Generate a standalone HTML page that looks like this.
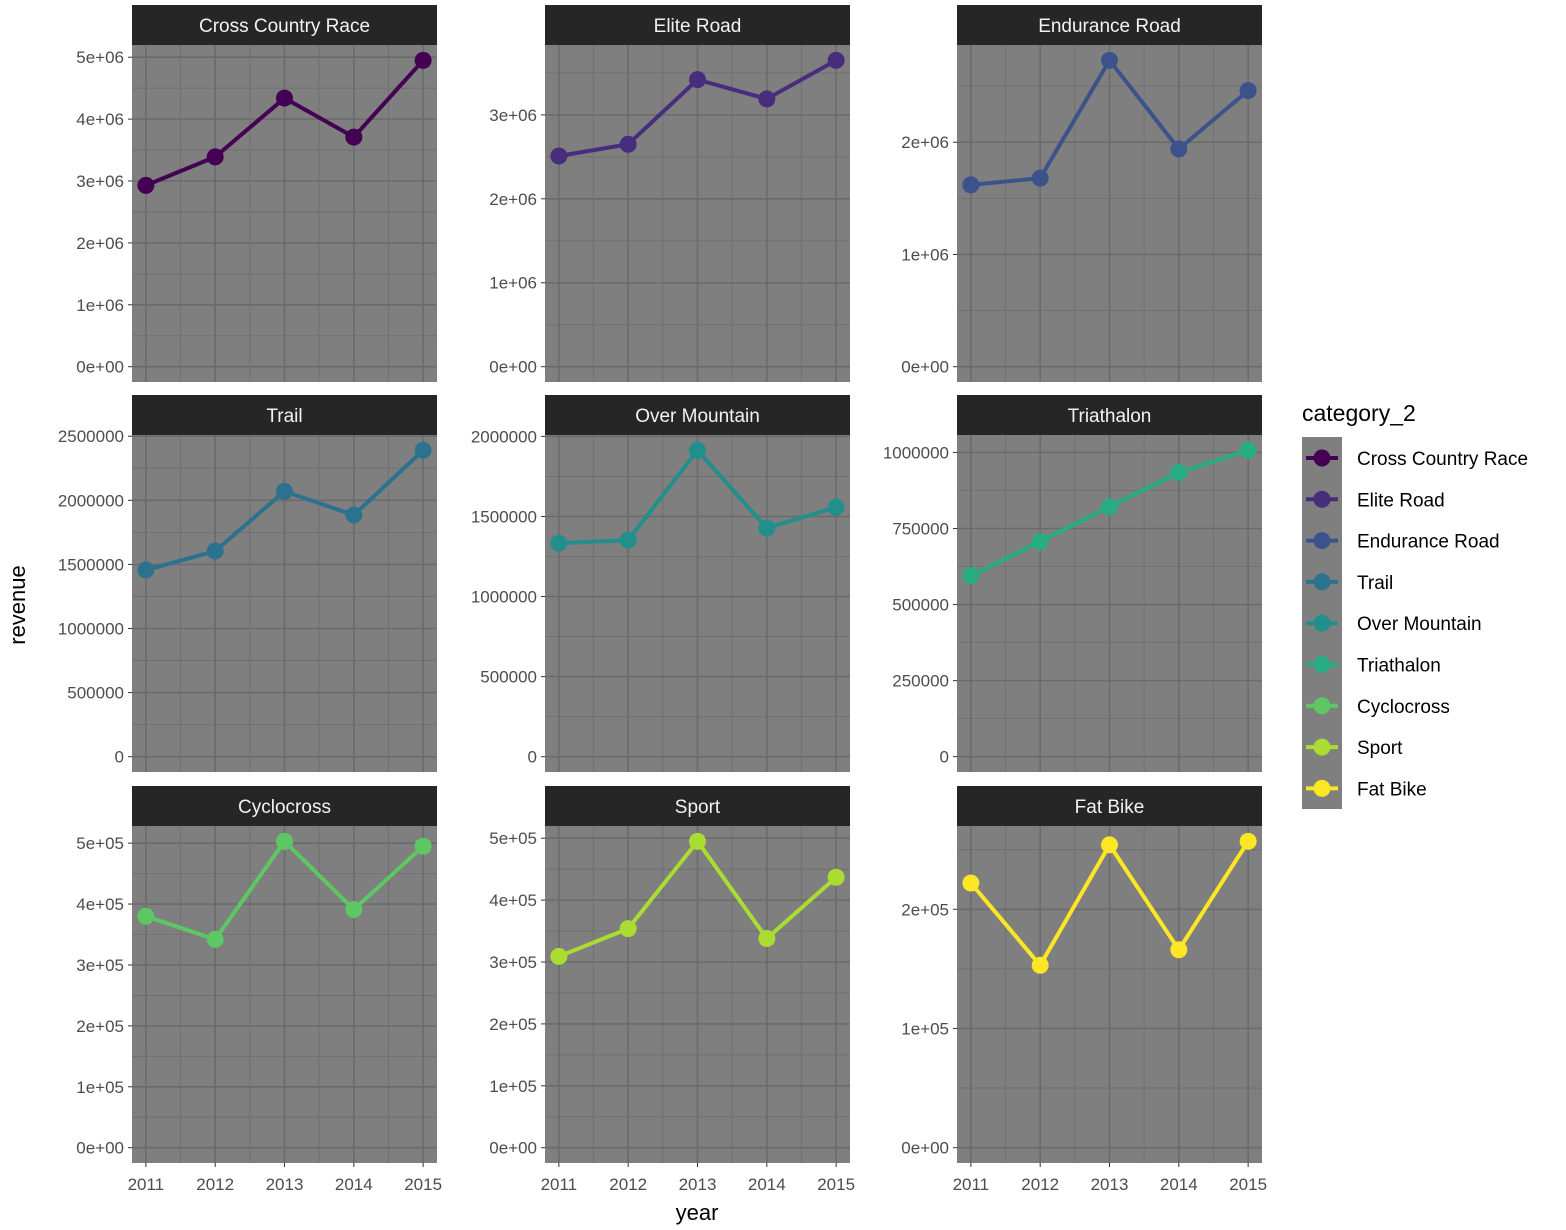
<!DOCTYPE html>
<html><head><meta charset="utf-8"><style>
html,body{margin:0;padding:0;background:#fff;}
svg{display:block;font-family:"Liberation Sans",Arial,sans-serif;}
</style></head><body>
<svg id="chart" width="1566" height="1230" xmlns="http://www.w3.org/2000/svg"></svg>
<script>
const years = [2011, 2012, 2013, 2014, 2015];
const categories = ["Cross Country Race","Elite Road","Endurance Road","Trail","Over Mountain","Triathalon","Cyclocross","Sport","Fat Bike"];
const colors = ["#440154","#472D7B","#3B528B","#2C728E","#21908C","#27AD81","#5DC863","#AADC32","#FDE725"];
const crossCountry = [2930000,3390000,4340000,3710000,4950000];
const eliteRoad = [2510000,2650000,3420000,3190000,3650000];
const enduranceRoad = [1620000,1680000,2730000,1940000,2460000];
const trail = [1456000,1604000,2070000,1885000,2390000];
const overMountain = [1333000,1352000,1913000,1427000,1558000];
const triathalon = [595000,707000,822000,934000,1007000];
const cyclocross = [380000,342000,503000,391000,495000];
const sport = [309000,354000,495000,338000,437000];
const fatBike = [222000,153000,254000,166000,257000];
const seriesValues = [crossCountry,eliteRoad,enduranceRoad,trail,overMountain,triathalon,cyclocross,sport,fatBike];
const ticksSci6a = [0,1e6,2e6,3e6,4e6,5e6];
const ticksSci6b = [0,1e6,2e6,3e6];
const ticksSci6c = [0,1e6,2e6];
const ticksTrail = [0,500000,1000000,1500000,2000000,2500000];
const ticksOver = [0,500000,1000000,1500000,2000000];
const ticksTri = [0,250000,500000,750000,1000000];
const ticksSci5a = [0,1e5,2e5,3e5,4e5,5e5];
const ticksSci5c = [0,1e5,2e5];
const tickValues = [ticksSci6a,ticksSci6b,ticksSci6c,ticksTrail,ticksOver,ticksTri,ticksSci5a,ticksSci5a,ticksSci5c];
const labelsTrail = ["0","500000","1000000","1500000","2000000","2500000"];
const labelsOver = ["0","500000","1000000","1500000","2000000"];
const labelsTri = ["0","250000","500000","750000","1000000"];
const labelsSci6 = ["0e+00","1e+06","2e+06","3e+06","4e+06","5e+06"];
const labelsSci5 = ["0e+00","1e+05","2e+05","3e+05","4e+05","5e+05"];
const tickLabels = [labelsSci6,labelsSci6,labelsSci6,labelsTrail,labelsOver,labelsTri,labelsSci5,labelsSci5,labelsSci5];

const svg = document.getElementById('chart');
const NS = "http://www.w3.org/2000/svg";
function mk(tag, attrs, parent){ const e=document.createElementNS(NS,tag); for(const k in attrs) e.setAttribute(k,attrs[k]); (parent||svg).appendChild(e); return e; }

const colX = [132,545,957], rowY = [5,395,786];
const PW = 305, SH = 40, PH = 337;

categories.forEach((cat,i)=>{
  const c=i%3, r=Math.floor(i/3);
  const px=colX[c], sy=rowY[r], py=sy+SH;
  const g=mk('g',{});
  
  
  const vals=seriesValues[i];
  const vmax=Math.max(...vals), vmin=0;
  const pad=(vmax-vmin)*0.05;
  const y=v=> py+PH - (v-(vmin-pad))/((vmax+pad)-(vmin-pad))*PH;
  const x=yr=> px + (yr-2011+0.2)/4.4*PW;
  const strip=mk('rect',{x:px,y:sy,width:PW,height:SH,fill:'#262626'},g);
  
  
  const st=mk('text',{x:px+PW/2,y:sy+27,'text-anchor':'middle',fill:'#f2f2f2','font-size':19},g);
  st.textContent=cat;
  
  
  const bg=mk('rect',{x:px,y:py,width:PW,height:PH,fill:'#7f7f7f'},g);
  
  
  const tv=tickValues[i], step=tv[1]-tv[0];
  // minor y
  for(let k=-1;k<tv.length;k++){
    const mv=tv[0]+step*(k+0.5); const yy=y(mv);
    if(yy>py && yy<py+PH) mk('line',{x1:px,x2:px+PW,y1:yy,y2:yy,stroke:'#6e6e6e','stroke-width':0.8},g);
  }
  for(let k=0;k<years.length-1;k++){
    const xx=x(years[k]+0.5); mk('line',{x1:xx,x2:xx,y1:py,y2:py+PH,stroke:'#6e6e6e','stroke-width':0.8},g);
  }
  tv.forEach((v,k)=>{
    const yy=y(v);
    mk('line',{x1:px,x2:px+PW,y1:yy,y2:yy,stroke:'#6b6b6b','stroke-width':1.6},g);
    mk('line',{x1:px-4,x2:px,y1:yy,y2:yy,stroke:'#333','stroke-width':1},g);
    const t=mk('text',{x:px-8,y:yy+6,'text-anchor':'end',fill:'#4d4d4d','font-size':17},g);
    t.textContent=tickLabels[i][k];
    
    
  });
  years.forEach(yr=>{
    const xx=x(yr);
    mk('line',{x1:xx,x2:xx,y1:py,y2:py+PH,stroke:'#6b6b6b','stroke-width':1.6},g);
    if(r===2){
      mk('line',{x1:xx,x2:xx,y1:py+PH,y2:py+PH+4,stroke:'#333','stroke-width':1},g);
      const t=mk('text',{x:xx,y:py+PH+27,'text-anchor':'middle',fill:'#4d4d4d','font-size':17},g);
      t.textContent=yr;
      
      
    }
  });
  const pts=vals.map((v,k)=>x(years[k])+','+y(v)).join(' ');
  const line=mk('polyline',{points:pts,fill:'none',stroke:colors[i],'stroke-width':4,'stroke-linejoin':'round'},g);
  
  
  vals.forEach((v,k)=>{
    const p=mk('circle',{cx:x(years[k]),cy:y(v),r:8.5,fill:colors[i]},g);
    
    
  });
});

const yt=mk('text',{x:0,y:0,transform:'translate(25,605) rotate(-90)','text-anchor':'middle',fill:'#000','font-size':22});
yt.textContent='revenue';


const xt=mk('text',{x:697,y:1220,'text-anchor':'middle',fill:'#000','font-size':22});
xt.textContent='year';



const lg=mk('g',{});


const lt=mk('text',{x:1302,y:421,fill:'#000','font-size':23},lg);
lt.textContent='category_2';


mk('rect',{x:1302,y:437,width:40,height:372,fill:'#7f7f7f'},lg);
categories.forEach((cat,i)=>{
  const cy=458+i*41.3;
  const e=mk('g',{},lg);
  
  
  mk('line',{x1:1306,x2:1338,y1:cy,y2:cy,stroke:colors[i],'stroke-width':4},e);
  mk('circle',{cx:1322,cy:cy,r:8.5,fill:colors[i]},e);
  const t=mk('text',{x:1357,y:cy+7,fill:'#000','font-size':19},e);
  t.textContent=cat;
});
</script>
</body></html>
